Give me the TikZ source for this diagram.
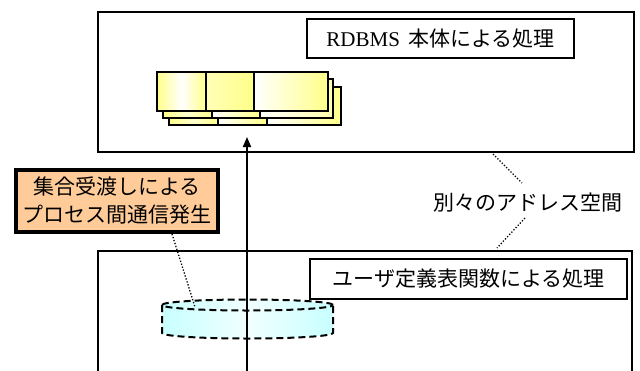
\documentclass[tikz,border=0pt]{standalone}
\usepackage{fontspec}
\setmainfont{Liberation Serif}
\newfontfamily\jp{Noto Sans CJK JP}
\usetikzlibrary{arrows.meta}
\definecolor{ylw}{HTML}{FFFF88}
\definecolor{orng}{HTML}{FFCC99}
\definecolor{cyn}{HTML}{C8FFFF}
\begin{document}
\begin{tikzpicture}[x=1pt,y=-1pt,
  frame/.style={draw=black,line width=1.8pt},
  labelbox/.style={draw=black,line width=1.8pt,fill=white,inner sep=0pt,
    font=\jp\fontsize{21pt}{28pt}\selectfont},
  plaintext/.style={inner sep=0pt,font=\jp\fontsize{21pt}{28pt}\selectfont},
  card/.style={draw=black,line width=1.5pt},
  dotline/.style={line width=1.3pt,dash pattern=on 1.3pt off 1.8pt},
  dashline/.style={line width=2pt,dash pattern=on 7pt off 4pt}
]
\useasboundingbox (0,0) rectangle (640,370);
\fill[white] (0,0) rectangle (640,370);

% top process box
\node[frame,minimum width=536pt,minimum height=140pt,inner sep=0pt] (top) at (366,82) {};
\node[labelbox,minimum width=267pt,minimum height=39pt] (rdbms) at (440.5,38.5)
  {{\rmfamily\fontsize{21pt}{28pt}\selectfont RDBMS\,} 本体による処理};

% stacked cards (back to front)
\path[card,left color=ylw,right color=ylw,middle color=ylw!40] (169,87) rectangle (218,125);
\path[card,left color=white,right color=ylw] (218,87) rectangle (267,125);
\path[card,left color=white,right color=ylw] (267,87) rectangle (341,125);
\path[card,left color=ylw,right color=ylw,middle color=ylw!40] (163,79) rectangle (212,118);
\path[card,left color=white,right color=ylw] (212,79) rectangle (260,118);
\path[card,left color=white,right color=ylw!70] (260,79) rectangle (333,118);
\path[card,left color=ylw,right color=ylw,middle color=white] (157,72) rectangle (206,111);
\path[card,left color=ylw!60,right color=ylw] (206,72) rectangle (254,111);
\path[card,left color=white,right color=ylw] (254,72) rectangle (328,111);

% bottom process box (open at the bottom)
\draw[line width=1.8pt] (98,372) -- (98,251) -- (632,251) -- (632,372);
\node[labelbox,minimum width=317pt,minimum height=40pt] (udf) at (468.5,279)
  {ユーザ定義表関数による処理};

% cylinder
\path[left color=cyn,right color=cyn,middle color=cyn!25]
  (162,305) -- (162,333) arc[start angle=180,end angle=360,x radius=85.5pt,y radius=5.5pt]
  -- (333,305) arc[start angle=0,end angle=180,x radius=85.5pt,y radius=5.5pt] -- cycle;
\draw[dashline] (162,305) -- (162,333) arc[start angle=180,end angle=360,x radius=85.5pt,y radius=5.5pt] -- (333,305);
\draw[dashline] (247.5,305) ellipse[x radius=85.5pt,y radius=5.5pt];

% arrow
\coordinate (abot) at (247,372);
\coordinate (atop) at (247,137);
\draw[line width=1.8pt,-{Triangle[length=10pt,width=8pt]}] (abot) -- (atop);

% orange note
\node[draw=black,line width=4.5pt,fill=orng,minimum width=202pt,minimum height=62pt,
  inner sep=0pt,align=center,font=\jp\fontsize{21pt}{28pt}\selectfont] (note) at (117,201)
  {集合受渡しによる\\プロセス間通信発生};
\coordinate (cylp) at (195,307);
\coordinate (notep) at (172,234);
\draw[dotline] (notep) -- (cylp);

% address space label
\node[plaintext] (addr) at (528,203) {別々のアドレス空間};
\coordinate (p1) at (493,154);
\coordinate (p2) at (522,183);
\coordinate (p3) at (525,218);
\coordinate (p4) at (497,248);
\draw[dotline] (p1) -- (p2);
\draw[dotline] (p3) -- (p4);
\end{tikzpicture}
\end{document}
